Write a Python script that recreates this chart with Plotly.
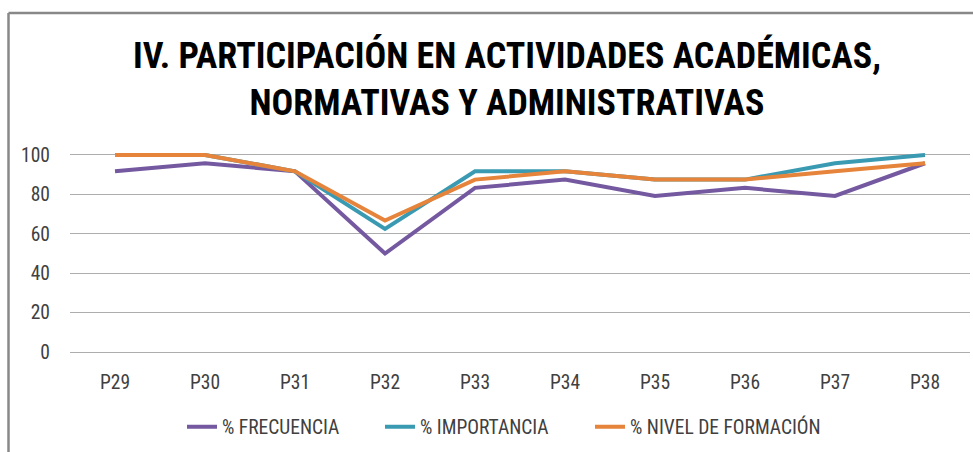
import plotly.graph_objects as go

categories = ["P29", "P30", "P31", "P32", "P33", "P34", "P35", "P36", "P37", "P38"]
frecuencia = [91.7, 95.8, 91.7, 50.0, 83.3, 87.5, 79.2, 83.3, 79.2, 95.8]
importancia = [100.0, 100.0, 91.7, 62.5, 91.7, 91.7, 87.5, 87.5, 95.8, 100.0]
nivel_formacion = [100.0, 100.0, 91.7, 66.7, 87.5, 91.7, 87.5, 87.5, 91.7, 95.8]
series_names = ["% FRECUENCIA", "% IMPORTANCIA", "% NIVEL DE FORMACIÓN"]
y_ticks = [0, 20, 40, 60, 80, 100]
title_text = "IV. PARTICIPACIÓN EN ACTIVIDADES ACADÉMICAS,<br>NORMATIVAS Y ADMINISTRATIVAS"

colors = ["#7559A0", "#3A9AB2", "#E5843A"]
FONT = "Roboto Condensed, Liberation Sans Narrow, Arial Narrow, sans-serif"

W, H = 973, 452
L, R, T, B = 70, 3, 153, 98
pw, ph = W - L - R, H - T - B

def px(x):
    return (x - L) / pw

def py(y):
    return (H - B - y) / ph

legend_ids = ["legend", "legend2", "legend3"]
legend_x = [182, 380, 590]

fig = go.Figure()
for name, vals, c, lid in zip(series_names, [frecuencia, importancia, nivel_formacion], colors, legend_ids):
    fig.add_trace(go.Scatter(x=categories, y=vals, name=name, mode="lines", legend=lid,
                             line=dict(color=c, width=4)))

legend_common = dict(orientation="h", xanchor="left", yanchor="middle", y=py(427),
                     bgcolor="rgba(0,0,0,0)",
                     font=dict(family=FONT, size=19.5, color="#404040"))

fig.update_layout(
    width=W, height=H,
    margin=dict(l=L, r=R, t=T, b=B, autoexpand=False),
    paper_bgcolor="white", plot_bgcolor="white",
    font=dict(family=FONT, size=19.5, color="#404040"),
    title=dict(text=title_text, xref="container", yref="container",
               x=507 / W, xanchor="center", y=1 - 68 / H, yanchor="middle",
               font=dict(family=FONT, size=36, color="#000000", weight="bold")),
    showlegend=True,
    legend=dict(x=px(legend_x[0]), **legend_common),
    legend2=dict(x=px(legend_x[1]), **legend_common),
    legend3=dict(x=px(legend_x[2]), **legend_common),
    xaxis=dict(type="category", range=[-0.5, 9.5], showgrid=False, zeroline=False,
               showline=False, ticks="", ticklabelstandoff=14, automargin=False),
    yaxis=dict(range=[-1, 101], tickvals=y_ticks, showgrid=True, gridcolor="#ADADAD",
               gridwidth=1, zeroline=False, showline=False, ticks="", ticklabelstandoff=19,
               automargin=False),
    shapes=[
        dict(type="line", xref="paper", yref="paper", x0=px(8.5), x1=px(980), y0=py(13), y1=py(13),
             line=dict(color="#888888", width=2.5)),
        dict(type="line", xref="paper", yref="paper", x0=px(8.5), x1=px(8.5), y0=py(13), y1=py(460),
             line=dict(color="#888888", width=2.5)),
    ],
)

fig.write_html("out.html", config={"displayModeBar": False},
               post_script="document.body.style.margin='0';document.body.style.overflow='hidden';")
